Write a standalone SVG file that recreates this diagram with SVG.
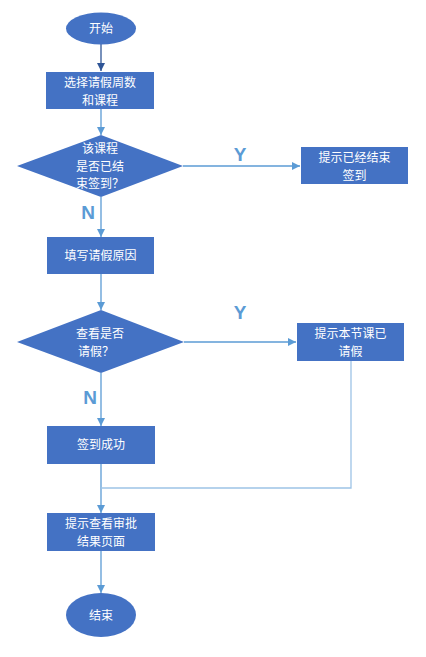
<svg xmlns="http://www.w3.org/2000/svg" width="426" height="657" viewBox="0 0 426 657">
<style>
.n{fill:#4472C4;}
.t{fill:#fff;font-family:"Noto Sans CJK SC","Liberation Sans",sans-serif;font-size:12px;text-anchor:middle;}
.c{fill:none;stroke:#5B9BD5;stroke-width:1.3;}
.l{fill:#5B9BD5;font-family:"Liberation Sans",Arial,sans-serif;font-size:19px;font-weight:bold;text-anchor:middle;}
</style>
<defs>
<marker id="a" viewBox="0 0 10 10" refX="10" refY="5" markerWidth="8" markerHeight="8" markerUnits="userSpaceOnUse" orient="auto"><path d="M0,0 L10,5 L0,10 z" fill="#5B9BD5"/></marker>
<marker id="ad" viewBox="0 0 10 10" refX="10" refY="5" markerWidth="8" markerHeight="8" markerUnits="userSpaceOnUse" orient="auto"><path d="M0,0 L10,5 L0,10 z" fill="#2F5597"/></marker>
</defs>
<g id="connectors">
<path d="M101,44 V71" fill="none" stroke="#2F5597" stroke-width="1.3" marker-end="url(#ad)"/>
<path class="c" d="M101,109 V135" marker-end="url(#a)"/>
<path class="c" d="M183,166 H300" marker-end="url(#a)"/>
<path class="c" d="M101,197 V237" marker-end="url(#a)"/>
<path class="c" d="M101,274 V310" marker-end="url(#a)"/>
<path class="c" d="M184,342 H296" marker-end="url(#a)"/>
<path class="c" d="M101,373 V426" marker-end="url(#a)"/>
<path class="c" d="M101,464 V513" marker-end="url(#a)"/>
<path d="M351,361 V488 H101" fill="none" stroke="#9DC3E6" stroke-width="1.3"/>
<path class="c" d="M101,551 V593" marker-end="url(#a)"/>
<text class="l" x="240" y="161">Y</text>
<text class="l" x="88" y="219">N</text>
<text class="l" x="240" y="319">Y</text>
<text class="l" x="90" y="404">N</text>
</g>
<g id="start"><ellipse class="n" cx="101" cy="28.5" rx="35" ry="16"/><text class="t" x="101" y="33">开始</text></g>
<g id="choose"><rect class="n" x="46" y="72" width="108" height="37"/><text class="t" x="100" y="87">选择请假周数</text><text class="t" x="100" y="104.5">和课程</text></g>
<g id="check1"><polygon class="n" points="101,135 183,166 101,197 17,166"/><text class="t" x="100" y="153">该课程</text><text class="t" x="100" y="170.5">是否已结</text><text class="t" x="100" y="188">束签到？</text></g>
<g id="ended"><rect class="n" x="301" y="147" width="107" height="37"/><text class="t" x="354.5" y="162">提示已经结束</text><text class="t" x="354.5" y="179.5">签到</text></g>
<g id="reason"><rect class="n" x="47" y="237" width="107" height="37"/><text class="t" x="100.5" y="260">填写请假原因</text></g>
<g id="check2"><polygon class="n" points="101,310 184,342 101,373 17,342"/><text class="t" x="100" y="338">查看是否</text><text class="t" x="96" y="355.5">请假？</text></g>
<g id="leave"><rect class="n" x="297" y="323" width="107" height="38"/><text class="t" x="350.5" y="338">提示本节课已</text><text class="t" x="350.5" y="355.5">请假</text></g>
<g id="success"><rect class="n" x="47" y="426" width="108" height="38"/><text class="t" x="101" y="449">签到成功</text></g>
<g id="result"><rect class="n" x="47" y="513" width="108" height="38"/><text class="t" x="101" y="528">提示查看审批</text><text class="t" x="101" y="545.5">结果页面</text></g>
<g id="end"><ellipse class="n" cx="101" cy="615" rx="35" ry="22"/><text class="t" x="101" y="620">结束</text></g>
</svg>
